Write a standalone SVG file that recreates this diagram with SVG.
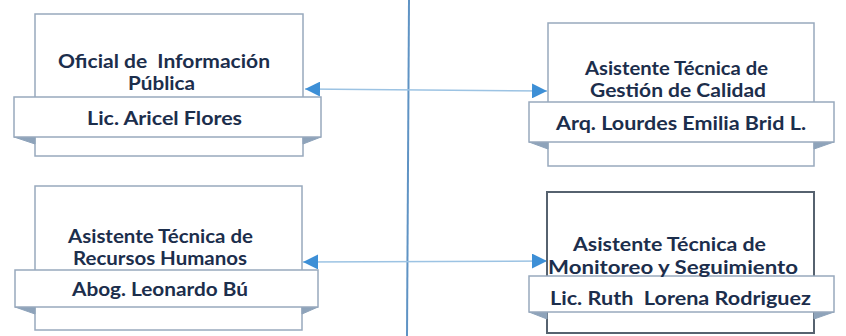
<svg xmlns="http://www.w3.org/2000/svg" width="846" height="336" viewBox="0 0 846 336">
<style>
.box{fill:#ffffff;stroke:#98a9bd;stroke-width:1.5}
.box.dark{stroke:#56626f;stroke-width:2}
.banner{fill:#ffffff;stroke:#98a9bd;stroke-width:1.5}
.fold{fill:#8ea3ba;stroke:#8ea3ba;stroke-width:1}
.t{font-family:Lato,"Open Sans","Liberation Sans",sans-serif;font-weight:700;font-size:19px;fill:#1c2e4c;white-space:pre}
.conn{stroke:#9cc3e3;stroke-width:1.5;fill:none}
.axis{stroke:#5f93c4;stroke-width:2;fill:none}
</style>
<defs>
<marker id="ah" markerUnits="userSpaceOnUse" markerWidth="15" markerHeight="15" viewBox="0 0 15 15" refX="15" refY="7.5" orient="auto-start-reverse">
<path d="M0,0 L15,7.5 L0,15 z" fill="#3d8fd6"/>
</marker>
</defs>
<rect width="846" height="336" fill="#ffffff"/>
<g id="connectors">
<line class="axis" x1="409" y1="0" x2="407" y2="336"/>
<line class="conn" x1="305" y1="89" x2="547" y2="91" marker-start="url(#ah)" marker-end="url(#ah)"/>
<line class="conn" x1="303" y1="262" x2="547" y2="261" marker-start="url(#ah)" marker-end="url(#ah)"/>
</g>
<g id="node-oficial">
<rect class="box" x="35" y="14" width="268" height="142"/>
<polygon class="fold" points="14,137 35,137 35,144"/>
<polygon class="fold" points="321,137 303,137 303,144"/>
<rect class="banner" x="14" y="97" width="307" height="40"/>
<text class="t" x="58" y="68" textLength="212" lengthAdjust="spacingAndGlyphs" xml:space="preserve">Oficial de  Información</text>
<text class="t" x="128" y="90" textLength="67" lengthAdjust="spacingAndGlyphs">Pública</text>
<text class="t" x="87" y="125" textLength="155" lengthAdjust="spacingAndGlyphs">Lic. Aricel Flores</text>
</g>
<g id="node-calidad">
<rect class="box" x="548" y="23" width="266" height="143"/>
<polygon class="fold" points="529,142 548,142 548,149"/>
<polygon class="fold" points="834,142 814,142 814,149"/>
<rect class="banner" x="529" y="102" width="305" height="40"/>
<text class="t" x="585" y="75" textLength="183" lengthAdjust="spacingAndGlyphs">Asistente Técnica de</text>
<text class="t" x="590" y="97" textLength="176" lengthAdjust="spacingAndGlyphs">Gestión de Calidad</text>
<text class="t" x="556" y="130" textLength="250" lengthAdjust="spacingAndGlyphs">Arq. Lourdes Emilia Brid L.</text>
</g>
<g id="node-rrhh">
<rect class="box" x="35" y="186" width="267" height="144"/>
<polygon class="fold" points="15,307 35,307 35,314"/>
<polygon class="fold" points="318,307 302,307 302,314"/>
<rect class="banner" x="15" y="270" width="303" height="37"/>
<text class="t" x="68" y="243" textLength="185" lengthAdjust="spacingAndGlyphs">Asistente Técnica de</text>
<text class="t" x="73" y="265" textLength="174" lengthAdjust="spacingAndGlyphs">Recursos Humanos</text>
<text class="t" x="72" y="296" textLength="176" lengthAdjust="spacingAndGlyphs">Abog. Leonardo Bú</text>
</g>
<g id="node-monitoreo">
<rect class="box dark" x="547" y="192" width="267" height="141"/>
<polygon class="fold" points="529,312 547,312 547,319"/>
<polygon class="fold" points="834,312 814,312 814,319"/>
<rect class="banner" x="529" y="276" width="305" height="36"/>
<text class="t" x="573" y="251" textLength="193" lengthAdjust="spacingAndGlyphs">Asistente Técnica de</text>
<text class="t" x="548" y="274" textLength="250" lengthAdjust="spacingAndGlyphs">Monitoreo y Seguimiento</text>
<text class="t" x="550" y="305" textLength="261" lengthAdjust="spacingAndGlyphs" xml:space="preserve">Lic. Ruth  Lorena Rodriguez</text>
</g>
</svg>
